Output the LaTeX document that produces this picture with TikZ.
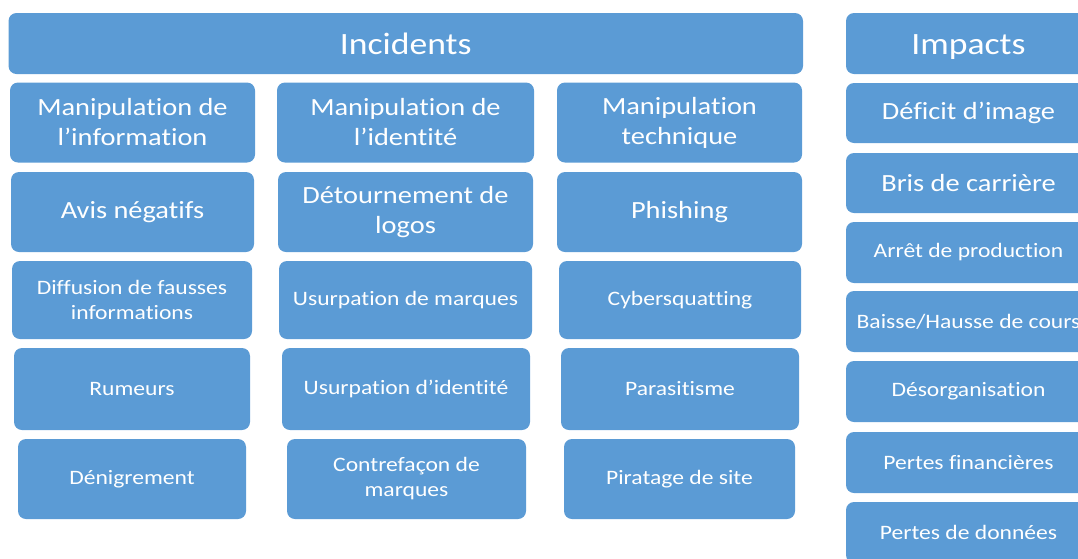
\documentclass[tikz,border=0pt]{standalone}
\usepackage{fontspec}
\newfontfamily\calib[FakeStretch=1.15,Ligatures=NoCommon]{Carlito}
\definecolor{bleu}{RGB}{91,155,213}
\begin{document}
\begin{tikzpicture}[x=1pt,y=-1pt,
  case/.style={fill=bleu,rounded corners=8pt,text=white,align=center,inner sep=0pt,minimum width=245pt,minimum height=80pt,font=\calib\fontsize{24.7}{30}\selectfont},
  petit/.style={case,font=\calib\fontsize{20.5}{25}\selectfont},
  titre/.style={case,minimum height=61pt,text height=21pt,text depth=0pt,font=\calib\fontsize{31}{36}\selectfont}]
\path[use as bounding box,clip] (0,0) rectangle (1078,558);
\node[titre,minimum width=794.5pt] (incidents) at (405.75,43.5) {Incidents};
\node[titre] (impacts) at (968.5,43.5) {Impacts};
% incidents, par colonne de gauche a droite
\node[case] (info) at (132.5,122.5) {Manipulation de\\l’information};
\node[case,minimum width=257pt] (ident) at (405.5,122.5) {Manipulation de\\l’identité};
\node[case] (tech) at (679.5,122.5) {Manipulation\\technique};
\node[case,minimum width=243pt] (avis) at (132.5,212) {Avis négatifs};
\node[case,minimum width=255pt] (logos) at (405.5,212) {Détournement de\\logos};
\node[case] (phishing) at (679.5,212) {Phishing};
\node[petit,minimum width=240pt,minimum height=78pt] (fausses) at (132,300) {Diffusion de fausses\\informations};
\node[petit,minimum width=253pt,minimum height=78pt] (marques) at (405.5,300) {Usurpation de marques};
\node[petit,minimum width=242pt,minimum height=78pt] (cyber) at (680,300) {Cybersquatting};
\node[petit,minimum width=236pt,minimum height=82pt] (rumeurs) at (132,389) {Rumeurs};
\node[petit,minimum width=248pt,minimum height=82pt] (identite) at (406,389) {Usurpation d’identité};
\node[petit,minimum width=238pt,minimum height=82pt] (parasit) at (680,389) {Parasitisme};
\node[petit,minimum width=228pt] (denigr) at (132,479) {Dénigrement};
\node[petit,minimum width=239pt] (contref) at (406.5,479) {Contrefaçon de\\marques};
\node[petit,minimum width=231pt] (piratage) at (679.5,479) {Piratage de site};
% impacts
\node[case,minimum height=60pt] (image) at (968.5,113) {Déficit d’image};
\node[case,minimum height=60pt] (carriere) at (968.5,183) {Bris de carrière};
\node[petit,minimum height=61pt] (production) at (968.5,252.5) {Arrêt de production};
\node[petit,minimum height=61pt] (cours) at (968.5,321.5) {Baisse/Hausse de cours};
\node[petit,minimum height=61pt] (desorg) at (968.5,391.5) {Désorganisation};
\node[petit,minimum height=61pt] (pertes) at (968.5,462.5) {Pertes financières};
\node[petit,minimum height=61pt] (donnees) at (968.5,532.5) {Pertes de données};
\end{tikzpicture}
\end{document}
